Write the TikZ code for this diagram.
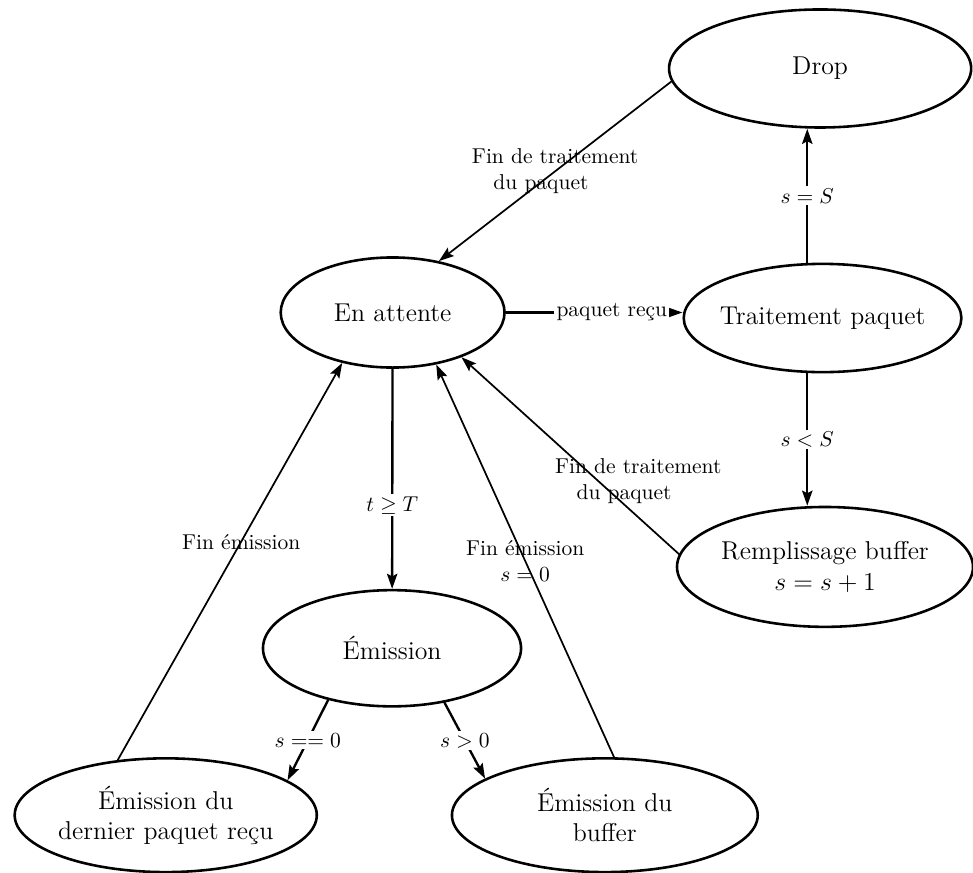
\documentclass[tikz,border=0pt]{standalone}
\usepackage{amsmath}
\usepackage{amssymb}
\usetikzlibrary{arrows, arrows.meta, calc, shapes.geometric}

\begin{document}
\begin{tikzpicture}[line join = round, line cap = round,>={Stealth[length=7pt,width=4.8pt,inset=1.2pt]},font=\normalsize,scale=1,
etat/.style={draw,ellipse,line width=1.2pt,inner sep=-2mm,font=\large,align=center},
cond/.style={line width=1.1pt},
fin/.style={line width=0.8pt},
lab/.style={fill=white,inner sep=1pt}]
\useasboundingbox (0,0) rectangle (15.91,14.26);
\path
(13.41,13.14) node[etat,minimum width=4.94cm,minimum height=1.93cm] (D) {Drop}
(6.42,9.15) node[etat,minimum width=3.66cm,minimum height=1.80cm] (A) {En attente}
(13.45,9.06) node[etat,minimum width=4.54cm,minimum height=1.77cm] (T) {Traitement paquet}
(13.49,4.99) node[etat,minimum width=4.84cm,minimum height=1.96cm] (R) {Remplissage buffer\\$s=s+1$}
(6.41,3.66) node[etat,minimum width=4.22cm,minimum height=1.90cm] (E) {Émission}
(2.71,0.93) node[etat,minimum width=4.94cm,minimum height=1.86cm] (P) {Émission du\\dernier paquet reçu}
(9.89,0.93) node[etat,minimum width=5.00cm,minimum height=1.86cm] (B) {Émission du\\buffer}
;
\draw[->,cond] (A.east) -- (A.east -| T.west) node[pos=0.6,lab]{paquet reçu};
\draw[->,cond] ([xshift=-2.5mm]T.north) -- ([xshift=-2.5mm]T.north |- D.south) node[midway,lab]{$s = S$};
\draw[->,cond] ([xshift=-2.5mm]T.south) -- ([xshift=-2.5mm]T.south |- R.north) node[midway,lab]{$s < S$};
\draw[->,cond] (A) -- (E) node[pos=0.62,lab]{$t \geq T$};
\foreach \x/\y/\t in {E.219/P.16/{$s == 0$}, E.314/B.163/{$s > 0$}}
{\draw[->,cond] (\x) -- (\y) node[midway,lab]{\t};}
\draw[->,fin] (D.185) -- (A.48) node[midway,align=left]{Fin de traitement\\ \hspace*{1em}du paquet};
\draw[->,fin] (R.175) -- (A.327) node[pos=0.37,xshift=6.5mm,align=left]{Fin de traitement\\ \hspace*{1em}du paquet};
\draw[->,fin] (P.131) -- (A.225) node[pos=0.55]{Fin émission};
\draw[->,fin] (B.81) -- (A.310) node[midway,align=center]{Fin émission\\$s = 0$};
\end{tikzpicture}
\end{document}
